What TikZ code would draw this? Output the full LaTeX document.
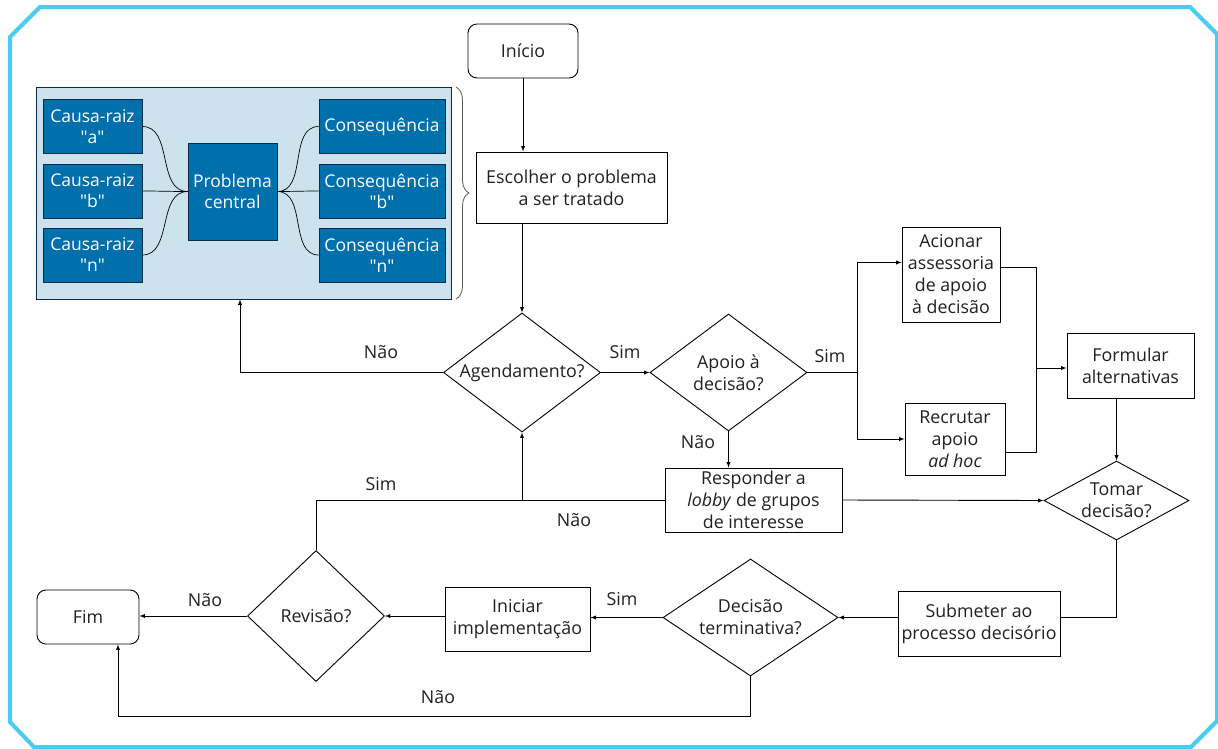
\documentclass[tikz,border=0pt]{standalone}
\usepackage{fontspec}
\setmainfont{Open Sans}
\usetikzlibrary{arrows,positioning,shapes,decorations.pathreplacing}
\definecolor{borda}{HTML}{4ACBF2}
\definecolor{azul}{HTML}{0070AD}
\definecolor{azulesc}{HTML}{0B2D4A}
\definecolor{azulclaro}{HTML}{CCE3EE}
\definecolor{texto}{HTML}{231F20}

\begin{document}
\begin{tikzpicture}[x=1pt,y=-1pt,>=latex,line width=0.9pt,font=\fontsize{17.8}{22}\selectfont]
	\tikzstyle{rect}=[draw, rectangle, text centered, align=center, inner sep=0pt, text=texto]
	\tikzstyle{term}=[draw, rectangle, rounded corners=9pt, text centered, inner sep=0pt, text=texto]
	\tikzstyle{losango}=[draw, diamond, align=center, inner sep=0pt, text=texto]
	\tikzstyle{caixa}=[draw=azulesc, fill=azul, text=white, align=center, inner sep=0pt, line width=0.7pt, font=\fontsize{17.5}{21}\selectfont]
	\tikzstyle{rot}=[text=texto]

	\useasboundingbox (0,0) rectangle (1218,748);
	\fill[white] (0,0) rectangle (1218,748);
	\draw[borda, line width=4pt] (40,7) -- (1190,7) -- (1217,34) -- (1217,721) -- (1191,747) -- (34,747) -- (10,722) -- (10,37) -- cycle;

	\node[draw=azulesc, fill=azulclaro, minimum width=415pt, minimum height=212pt, inner sep=0pt, line width=0.8pt] (painel) at (244,193) {};
	\node[caixa, minimum width=99pt, minimum height=54pt] (ca) at (92.5,126.5) {Causa-raiz\\\textquotedbl a\textquotedbl};
	\node[caixa, minimum width=99pt, minimum height=54pt] (cb) at (92.5,191) {Causa-raiz\\\textquotedbl b\textquotedbl};
	\node[caixa, minimum width=99pt, minimum height=54pt] (cn) at (92.5,255) {Causa-raiz\\\textquotedbl n\textquotedbl};
	\node[caixa, minimum width=89pt, minimum height=97pt] (pc) at (232.5,191.5) {Problema\\central};
	\node[caixa, minimum width=126pt, minimum height=54pt] (qa) at (382,126.5) {Consequência};
	\node[caixa, minimum width=126pt, minimum height=54pt] (qb) at (382,191) {Consequência\\\textquotedbl b\textquotedbl};
	\node[caixa, minimum width=126pt, minimum height=54pt] (qn) at (382,255) {Consequência\\\textquotedbl n\textquotedbl};
	\draw[line width=0.7pt] (ca.east) to[out=0,in=180] (pc.west);
	\draw[line width=0.7pt] (cb.east) to[out=0,in=180] (pc.west);
	\draw[line width=0.7pt] (cn.east) to[out=0,in=180] (pc.west);
	\draw[line width=0.7pt] (pc.east) to[out=0,in=180] (qa.west);
	\draw[line width=0.7pt] (pc.east) to[out=0,in=180] (qb.west);
	\draw[line width=0.7pt] (pc.east) to[out=0,in=180] (qn.west);
	\draw[gray!70!black, line width=0.8pt, decorate, decoration={brace, amplitude=13pt}] (456,87) -- (456,299);

	\node[term, minimum width=110pt, minimum height=54pt] (inicio) at (523,51) {Início};
	\node[rect, minimum width=191pt, minimum height=71pt] (esc) at (571.5,187.5) {Escolher o problema\\a ser tratado};
	\node[losango, minimum width=157pt, minimum height=119pt, aspect=1.32] (agend) at (522,372.5) {Agendamento?};
	\node[losango, minimum width=157pt, minimum height=117pt, aspect=1.34] (apoio) at (728.5,372.5) {Apoio à\\decisão?};
	\node[rect, minimum width=98pt, minimum height=95pt] (acion) at (951,274.5) {Acionar\\assessoria\\de apoio\\à decisão};
	\node[rect, minimum width=100pt, minimum height=72pt] (recr) at (955,439) {Recrutar\\apoio\\\textit{ad hoc}};
	\node[rect, minimum width=127pt, minimum height=65pt] (form) at (1130.5,365.5) {Formular\\alternativas};
	\node[rect, minimum width=177pt, minimum height=64pt] (resp) at (753.5,500) {Responder a\\\textit{lobby} de grupos\\de interesse};
	\node[losango, minimum width=145pt, minimum height=79pt, aspect=1.84] (tomar) at (1116.5,500.5) {Tomar\\decisão?};
	\node[rect, minimum width=162pt, minimum height=65pt] (subm) at (979,623.5) {Submeter ao\\processo decisório};
	\node[losango, minimum width=175pt, minimum height=117pt, aspect=1.5] (decis) at (750.5,617.5) {Decisão\\terminativa?};
	\node[rect, minimum width=145pt, minimum height=64pt] (inic) at (517.5,619) {Iniciar\\implementação};
	\node[losango, minimum width=137pt, minimum height=131pt, aspect=1.05] (rev) at (316,616) {Revisão?};
	\node[term, minimum width=102pt, minimum height=54pt] (fim) at (88,617) {Fim};

	\coordinate (j1) at (857,372.5);
	\coordinate (j2) at (1036,368);
	\coordinate (j3) at (522,500);
	\coordinate (k1) at (240,372.5);
	\coordinate (k2) at (118,716);

	\draw[->] (inicio.south) -- (inicio.south |- esc.north);
	\draw[->] (agend.north |- esc.south) -- (agend.north);
	\draw[->] (agend.west) -- (k1) -- (k1 |- painel.south);
	\draw[->] (agend.east) -- (apoio.west);
	\draw (apoio.east) -- (j1);
	\draw[->] (j1) |- ([yshift=12pt]acion.west);
	\draw[->] (j1) |- (recr.west);
	\draw ([yshift=7pt]acion.east) -| (j2) |- ([yshift=-13pt]recr.east);
	\draw[->] (j2) -- (j2 -| form.west);
	\draw[->] (tomar.north |- form.south) -- (tomar.north);
	\draw[->] (apoio.south) -- (apoio.south |- resp.north);
	\draw[->] (resp.east) -- (tomar.west);
	\draw (rev.north) |- (resp.west);
	\draw[->] (j3) -- (agend.south);
	\draw (tomar.south) |- ([yshift=6pt]subm.east);
	\draw[->] (subm.west |- decis.east) -- (decis.east);
	\draw[->] (decis.west) -- (decis.west -| inic.east);
	\draw[->] (inic.west |- rev.east) -- (rev.east);
	\draw[->] (rev.west) -- (rev.west -| fim.east);
	\draw[->] (decis.south) |- (k2) -- (k2 |- fim.south);

	\node[rot] (l1) at (381,352) {Não};
	\node[rot] (l2) at (625,352) {Sim};
	\node[rot] (l3) at (830,356) {Sim};
	\node[rot] (l4) at (698,442) {Não};
	\node[rot] (l5) at (381,484) {Sim};
	\node[rot] (l6) at (574,520) {Não};
	\node[rot] (l7) at (205,600) {Não};
	\node[rot] (l8) at (622,599) {Sim};
	\node[rot] (l9) at (438,697) {Não};
\end{tikzpicture}
\end{document}
